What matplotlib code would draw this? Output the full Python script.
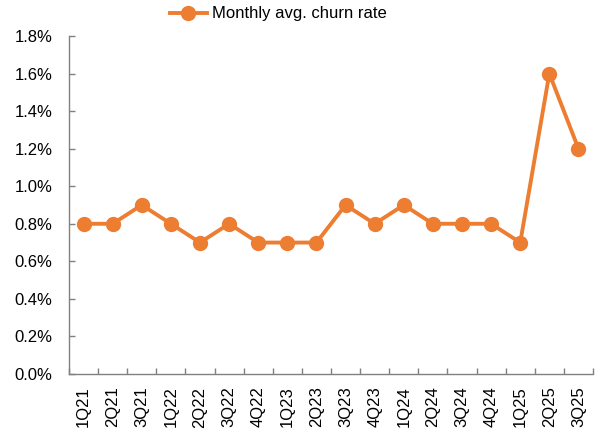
import matplotlib
matplotlib.use("Agg")
import matplotlib.pyplot as plt
from matplotlib.ticker import FuncFormatter, MultipleLocator, FixedLocator
from matplotlib import font_manager

quarters = ["1Q21", "2Q21", "3Q21", "1Q22", "2Q22", "3Q22", "4Q22", "1Q23", "2Q23",
            "3Q23", "4Q23", "1Q24", "2Q24", "3Q24", "4Q24", "1Q25", "2Q25", "3Q25"]
churn = [0.8, 0.8, 0.9, 0.8, 0.7, 0.8, 0.7, 0.7, 0.7,
         0.9, 0.8, 0.9, 0.8, 0.8, 0.8, 0.7, 1.6, 1.2]
series_name = "Monthly avg. churn rate"

names = {f.name for f in font_manager.fontManager.ttflist}
fam = "Liberation Sans Narrow" if "Liberation Sans Narrow" in names else "Liberation Sans"
plt.rcParams["font.family"] = [fam, "DejaVu Sans"]

color = "#ED7D31"
fig = plt.figure(figsize=(5.97, 4.30), dpi=100)
ax = fig.add_axes([0.1156, 0.1302, 0.8777, 0.7861])

x = list(range(len(quarters)))
ax.plot(x, churn, color=color, lw=2.8, marker="o", ms=10, label=series_name)

ax.set_xlim(-0.5, len(quarters) - 0.5)
ax.set_ylim(0, 1.8)
ax.yaxis.set_major_locator(MultipleLocator(0.2))
ax.yaxis.set_major_formatter(FuncFormatter(lambda v, p: f"{v:.1f}%"))
ax.set_xticks(x)
ax.set_xticklabels(quarters, rotation=90)
ax.xaxis.set_minor_locator(FixedLocator([i + 0.5 for i in range(-1, len(quarters))]))
ax.tick_params(axis="x", which="major", length=0, labelsize=12, pad=9)
ax.tick_params(axis="x", which="minor", direction="in", length=4, color="#808080", width=1)
ax.tick_params(axis="y", which="major", direction="in", length=4, color="#808080",
               width=1, labelsize=12, pad=12)

for s in ["top", "right"]:
    ax.spines[s].set_visible(False)
for s in ["left", "bottom"]:
    ax.spines[s].set_color("#808080")
    ax.spines[s].set_linewidth(1)

fig.legend(loc="upper center", bbox_to_anchor=(0.466, 1.02), frameon=False,
           fontsize=12, handlelength=2.2, handletextpad=0.3)

fig.savefig("out.png", dpi=100)
